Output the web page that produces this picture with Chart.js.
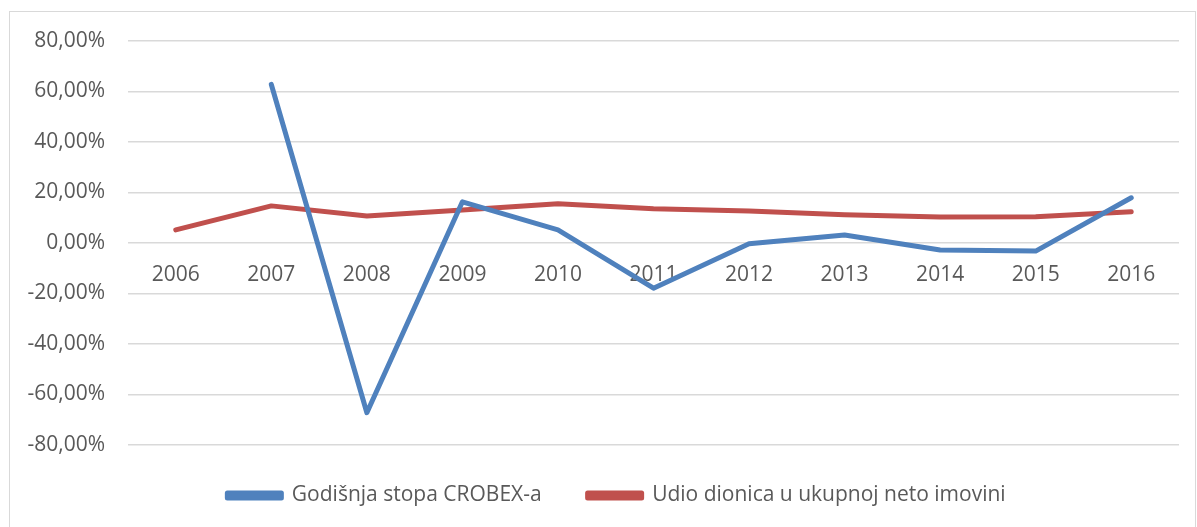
<!DOCTYPE html>
<html>
<head>
<meta charset="utf-8">
<script src="https://cdn.jsdelivr.net/npm/chart.js@4"></script>
<style>
  html, body { margin: 0; padding: 0; background: #fff; }
  #wrap { position: relative; width: 1197px; height: 527px; }
</style>
</head>
<body>
<div id="wrap"><canvas id="crobexChart" width="1197" height="527"></canvas></div>
<script>
var years = ["2006", "2007", "2008", "2009", "2010", "2011", "2012", "2013", "2014", "2015", "2016"];
var crobexRate = [null, 62.8, -67.2, 16.3, 5.2, -17.9, -0.3, 3.2, -2.8, -3.2, 17.9];
var equityShare = [5.2, 14.7, 10.7, 13.1, 15.5, 13.6, 12.7, 11.2, 10.3, 10.4, 12.4];
var yTicks = [-80, -60, -40, -20, 0, 20, 40, 60, 80];

var fontFam = "'Open Sans', 'Liberation Sans', sans-serif";
var textColor = '#595959';

// light frame around the whole chart, like the Excel chart area border
// and the legend nudged so it sits where Excel put it
var frame = {
  id: 'frame',
  afterLayout: function (chart) {
    chart.legend.left += 22;
    chart.legend.right += 22;
    chart.legend.top -= 6;
    chart.legend.bottom -= 6;
  },
  beforeDraw: function (chart) {
    var c = chart.ctx;
    c.save();
    c.fillStyle = '#fff';
    c.fillRect(0, 0, chart.width, chart.height);
    c.strokeStyle = '#D9D9D9';
    c.lineWidth = 1;
    c.strokeRect(9.5, 11.5, 1186, 530);
    c.restore();
  }
};

var ctx = document.getElementById('crobexChart').getContext('2d');
var myChart = new Chart(ctx, {
  type: 'line',
  data: {
    labels: years,
    datasets: [{
      label: 'Godišnja stopa CROBEX-a',
      data: crobexRate,
      borderColor: '#4F81BD',
      backgroundColor: '#4F81BD',
      borderWidth: 5,
      pointRadius: 0,
      tension: 0,
      borderCapStyle: 'round',
      borderJoinStyle: 'round'
    }, {
      label: 'Udio dionica u ukupnoj neto imovini',
      data: equityShare,
      borderColor: '#C0504D',
      backgroundColor: '#C0504D',
      borderWidth: 5,
      pointRadius: 0,
      tension: 0,
      borderCapStyle: 'round',
      borderJoinStyle: 'round'
    }]
  },
  options: {
    responsive: false,
    animation: false,
    layout: { padding: { left: 10, right: 18, top: 41, bottom: 5 } },
    plugins: {
      tooltip: { enabled: false },
      legend: {
        position: 'bottom',
        labels: {
          boxWidth: 54,
          boxHeight: 5,
          padding: 46,
          color: textColor,
          font: { family: fontFam, size: 21 }
        }
      }
    },
    scales: {
      x: {
        position: { y: 0 },
        offset: true,
        grid: { display: false },
        border: { display: false },
        ticks: {
          color: textColor,
          padding: 11,
          maxRotation: 0,
          font: { family: fontFam, size: 21 }
        }
      },
      y: {
        min: -80,
        max: 80,
        afterFit: function (scale) { scale.width = 118; },
        afterBuildTicks: function (scale) {
          scale.ticks = yTicks.map(function (v) { return { value: v }; });
        },
        grid: { color: '#D9D9D9', lineWidth: 1.5, drawTicks: false },
        border: { display: false },
        ticks: {
          color: textColor,
          padding: 23,
          font: { family: fontFam, size: 21 },
          callback: function (v) { return v.toFixed(2).replace('.', ',') + '%'; }
        }
      }
    }
  },
  plugins: [frame]
});
</script>
</body>
</html>
